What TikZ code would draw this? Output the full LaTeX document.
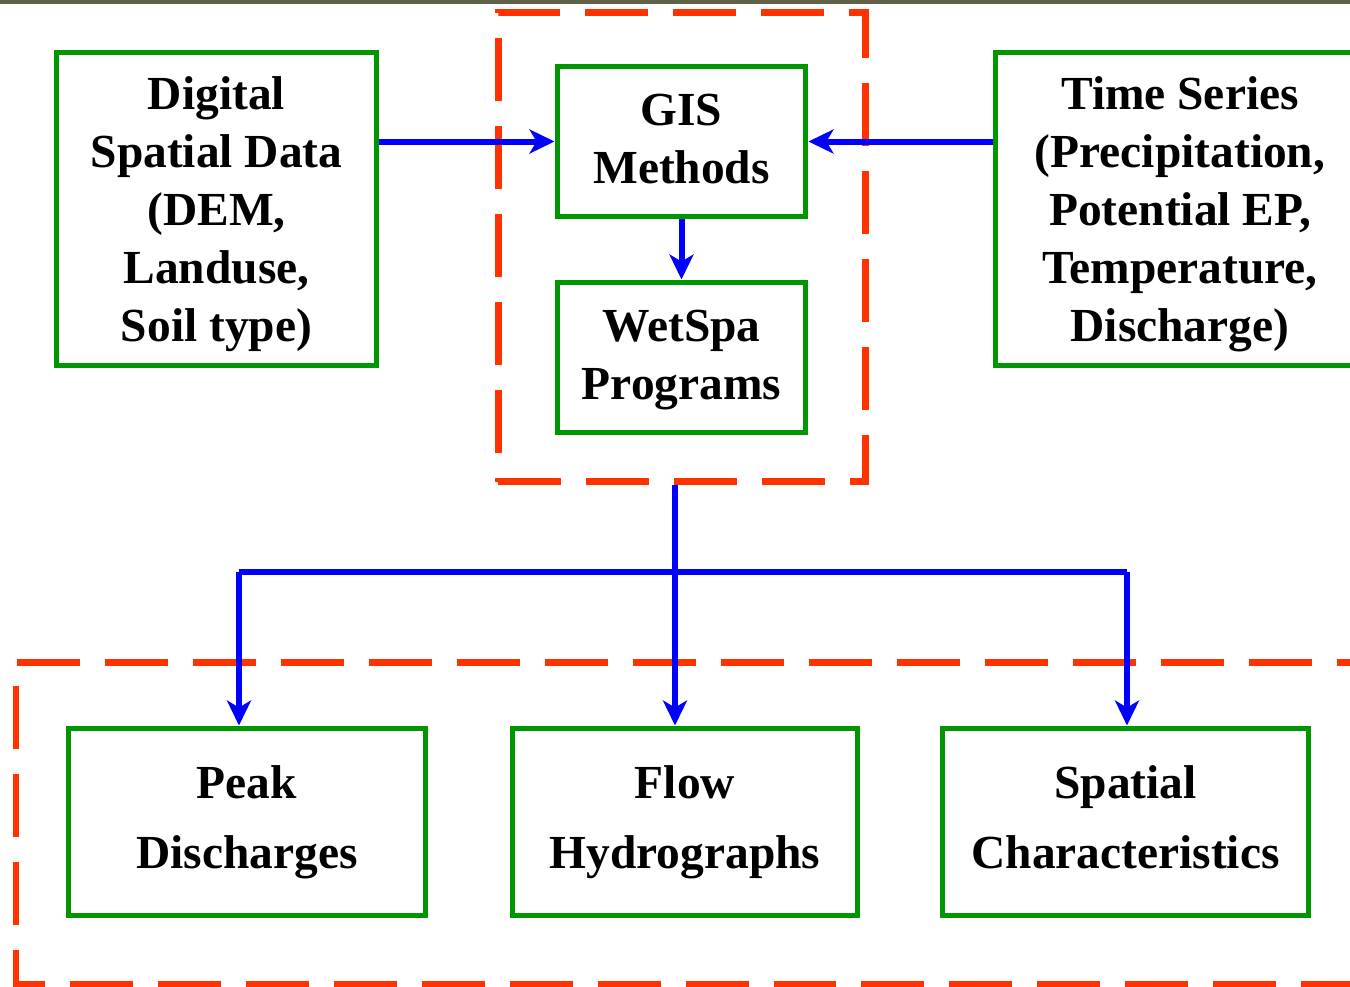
\documentclass[tikz,border=0pt]{standalone}
\usepackage{fontspec}
\setmainfont{Liberation Serif}
\usepackage{tikz}
\usetikzlibrary{arrows.meta}
\usetikzlibrary{positioning}

\definecolor{boxgreen}{RGB}{0,150,0}
\definecolor{dashred}{RGB}{255,51,0}
\definecolor{topbar}{RGB}{95,98,73}

\begin{document}
\begin{tikzpicture}[x=0.02cm, y=-0.02cm,
  box/.style={draw=boxgreen, line width=0.1cm, rectangle, align=center,
    font=\fontsize{27}{33}\selectfont\bfseries},
  bigbox/.style={box, minimum height=6.28cm, text depth=0pt},
  midbox/.style={box, minimum width=4.98cm, minimum height=3.02cm, text depth=3pt},
  lowbox/.style={box, minimum height=3.76cm, text depth=5.6pt,
    font=\fontsize{27}{40}\selectfont\bfseries},
  frame/.style={draw=dashred, line width=0.14cm, dash pattern=on 1.26cm off 0.5cm},
  link/.style={draw=blue, line width=0.12cm},
  >={Stealth[length=0.5cm, width=0.48cm, inset=0.14cm]}]
\useasboundingbox (0,0) rectangle (1350,987);
\clip (0,0) rectangle (1350,987);
\fill[topbar] (0,0) rectangle (1350,4);

% dashed frames
\node[frame, minimum width=7.36cm, minimum height=9.4cm] (core) at (682,247) {};
\draw[frame] (1400,662) -- (16,662) -- (16,984) -- (1400,984);

% inputs and model
\node[bigbox, minimum width=6.42cm] (digital) at (216.5,209)
  {Digital\\Spatial Data\\(DEM,\\Landuse,\\Soil type)};
\node[midbox] (gis) at (681.5,141.5) {GIS\\Methods};
\node[midbox] (wetspa) at (681.5,357.5) {WetSpa\\Programs};
\node[bigbox, minimum width=7.4cm] (series) at (1180,209)
  {Time Series\\(Precipitation,\\Potential EP,\\Temperature,\\Discharge)};

% outputs
\node[lowbox, minimum width=7.16cm] (peak) at (247,822) {Peak\\Discharges};
\node[lowbox, minimum width=6.92cm] (flow) at (685,822) {Flow\\Hydrographs};
\node[lowbox, minimum width=7.34cm] (spatial) at (1125.5,822) {Spatial\\Characteristics};

\coordinate (split) at (675,572);
\coordinate (bl) at (239,572);
\coordinate (br) at (1127,572);

\draw[link, ->] (digital.east |- gis.west) -- (gis.west);
\draw[link, ->] (series.west |- gis.east) -- (gis.east);
\draw[link, ->] (gis.south) -- (wetspa.north);
\draw[link, ->] (split |- core.south) -- (split |- flow.north);
\draw[link] (bl) -- (br);
\draw[link, ->] (bl) -- (bl |- peak.north);
\draw[link, ->] (br) -- (br |- spatial.north);
\end{tikzpicture}
\end{document}
